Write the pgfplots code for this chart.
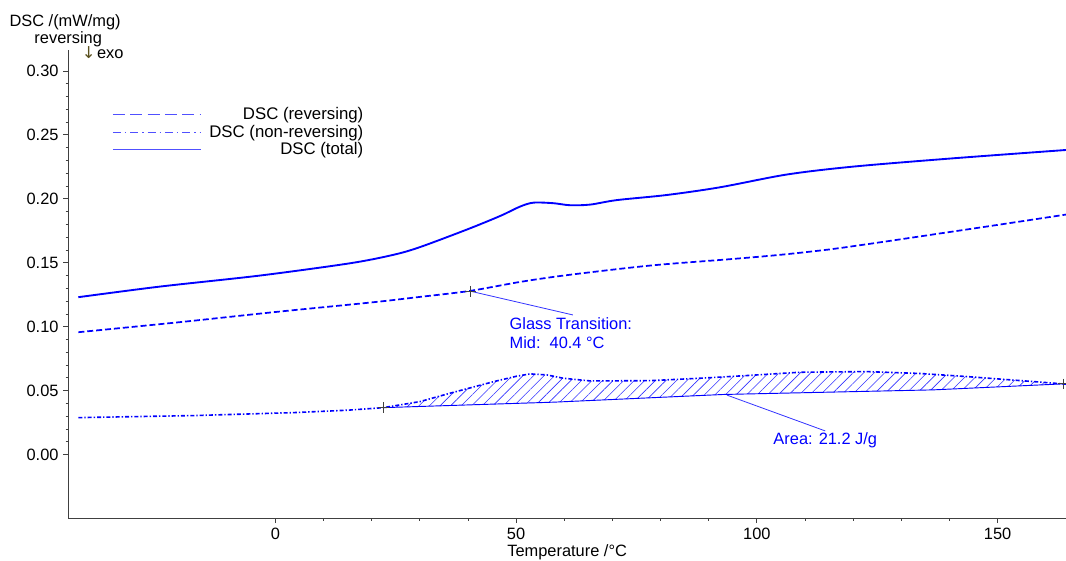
\documentclass[border=0pt]{standalone}
\usepackage{fontspec}
\setmainfont{Liberation Sans}
\newfontfamily\arrowfont{DejaVu Sans}
\usepackage{pgfplots}
\pgfplotsset{compat=1.18}
\usetikzlibrary{patterns.meta}

\definecolor{dscblue}{RGB}{0,0,255}
\definecolor{legblue}{RGB}{80,80,255}
\definecolor{axgray}{RGB}{64,64,64}
\definecolor{exoarrow}{RGB}{90,80,30}

\begin{document}
\begin{tikzpicture}[font=\fontsize{12.3}{14.5}\selectfont]
\begin{axis}[
    name=ax,
    scale only axis, width=748.5pt, height=351.2pt,
    xmin=-43, xmax=164.2, ymin=-0.0497, ymax=0.3164,
    axis lines*=left,
    axis line style={axgray, line width=0.8pt},
    xtick={0,50,100,150}, minor x tick num=4,
    ytick={0,0.05,0.10,0.15,0.20,0.25,0.30}, minor y tick num=4,
    scaled y ticks=false,
    tick align=outside, major tick length=3.75pt, minor tick length=2pt,
    tick style={axgray, line width=0.6pt},
    /pgf/number format/assume math mode=true,
    yticklabel style={/pgf/number format/fixed, /pgf/number format/fixed zerofill, /pgf/number format/precision=2},
    xlabel={Temperature /°C},
    xlabel style={yshift=3pt},
    clip=false,
    legend style={draw=none, fill=none, at={(rel axis cs:0.040,0.889)}, anchor=north west, row sep=-1.5pt,
      font=\fontsize{12.6}{14.5}\selectfont},
    legend cell align=right,
    legend image code/.code={\draw[#1] (0pt,0pt) -- (66pt,0pt); \path (70pt,0pt);},
  ]
  % legend entries
  \addlegendimage{draw=legblue, line width=0.7pt, dash pattern=on 9pt off 4pt}
  \addlegendentry{DSC (reversing)}
  \addlegendimage{draw=legblue, line width=0.7pt, dash pattern=on 6pt off 3pt on 1pt off 3pt}
  \addlegendentry{DSC (non-reversing)}
  \addlegendimage{draw=legblue, line width=0.7pt}
  \addlegendentry{DSC (total)}

  % hatched area between non-reversing curve and baseline
  \addplot[draw=none, pattern={Lines[angle=45, distance=5.6pt, line width=0.45pt]}, pattern color=dscblue!80, forget plot]
    coordinates {(22.4,0.0367)(30.0,0.0414)(36.3,0.0480)(45.3,0.0570)(50.0,0.0612)(52.9,0.0631)(56.4,0.0623)
      (59.8,0.0597)(65.4,0.0576)(77.8,0.0578)(88.2,0.0597)(97.9,0.0618)(109.0,0.0644)(122.8,0.0649)
      (134.0,0.0634)(143.6,0.0610)(157.4,0.0571)(163.6,0.0553)
      (136.6,0.0506)(93.0,0.0470)(57.9,0.0410)(22.4,0.0367)};
  % baseline
  \addplot[dscblue, line width=0.7pt, forget plot]
    coordinates {(22.4,0.0367)(57.9,0.0410)(93.0,0.0470)(136.6,0.0506)(163.6,0.0553)};

  % total
  \addplot[dscblue, line width=1.4pt, smooth, tension=0.5, forget plot] coordinates {
    (-40.9,0.1231)(-23.9,0.1314)(-3.2,0.1400)(15.5,0.1496)(24.5,0.1562)(30.0,0.1622)
    (39.8,0.1760)(46.7,0.1866)(50.8,0.1939)(53.6,0.1970)(57.7,0.1966)(61.2,0.1950)
    (65.4,0.1955)(70.9,0.1990)(81.3,0.2030)(92.3,0.2090)(106.2,0.2190)(120.0,0.2252)
    (140.8,0.2317)(164.2,0.2382)};
  % reversing
  \addplot[dscblue, line width=1.3pt, dash pattern=on 4.5pt off 2.2pt, smooth, tension=0.5, forget plot] coordinates {
    (-40.9,0.0957)(-20,0.1035)(0,0.1115)(20,0.1190)(30,0.1233)(40.4,0.1280)(50.8,0.1350)
    (60.5,0.1403)(77.8,0.1478)(94.4,0.1528)(104.8,0.1562)(115.2,0.1605)(125.6,0.1660)
    (136,0.1718)(149.8,0.1795)(164.2,0.1877)};
  % non-reversing
  \addplot[dscblue, line width=1.2pt, dash pattern=on 3pt off 1.5pt on 1pt off 1.5pt, forget plot] coordinates {
    (-40.9,0.0289)(-17.0,0.0305)(3.7,0.0328)(15.0,0.0347)(22.4,0.0367)(30.0,0.0414)
    (36.3,0.0480)(45.3,0.0570)(50.0,0.0612)(52.9,0.0631)(56.4,0.0623)(59.8,0.0597)
    (65.4,0.0576)(77.8,0.0578)(88.2,0.0597)(97.9,0.0618)(109.0,0.0644)(122.8,0.0649)
    (134.0,0.0634)(143.6,0.0610)(157.4,0.0571)(164.2,0.0551)};

  % leader lines
  \addplot[dscblue!80, line width=0.6pt, forget plot] coordinates {(40.6,0.1277)(61.8,0.1092)};
  \addplot[dscblue!80, line width=0.6pt, forget plot] coordinates {(93.8,0.0465)(114.2,0.0185)};
  % evaluation markers
  \addplot[only marks, mark=+, mark size=4pt, axgray, line width=0.6pt, forget plot]
    coordinates {(40.6,0.1277)(22.4,0.0367)(163.6,0.0553)};

  \node[dscblue, anchor=west, align=left, inner sep=0pt] at (axis cs:48.6,0.0952) {Glass Transition:\\Mid:~~40.4 °C};
  \node[dscblue, anchor=west, inner sep=0pt] at (axis cs:103.4,0.0115) {Area: 21.2 J/g};

  \node[anchor=base west, inner sep=0pt] at (rel axis cs:-0.0591,1.0497) {DSC /(mW/mg)};
  \node[anchor=base west, inner sep=0pt] at (rel axis cs:-0.0341,1.0143) {reversing};
  \node[anchor=base west, inner sep=0pt] at (rel axis cs:0.0135,0.9823) {{\arrowfont\color{exoarrow}↓}\hspace{1pt}exo};
\end{axis}
\pgfresetboundingbox
\path ([shift={(-51.2pt,-32pt)}]ax.south west) rectangle ([shift={(0pt,37.5pt)}]ax.north east);
\end{tikzpicture}
\end{document}
